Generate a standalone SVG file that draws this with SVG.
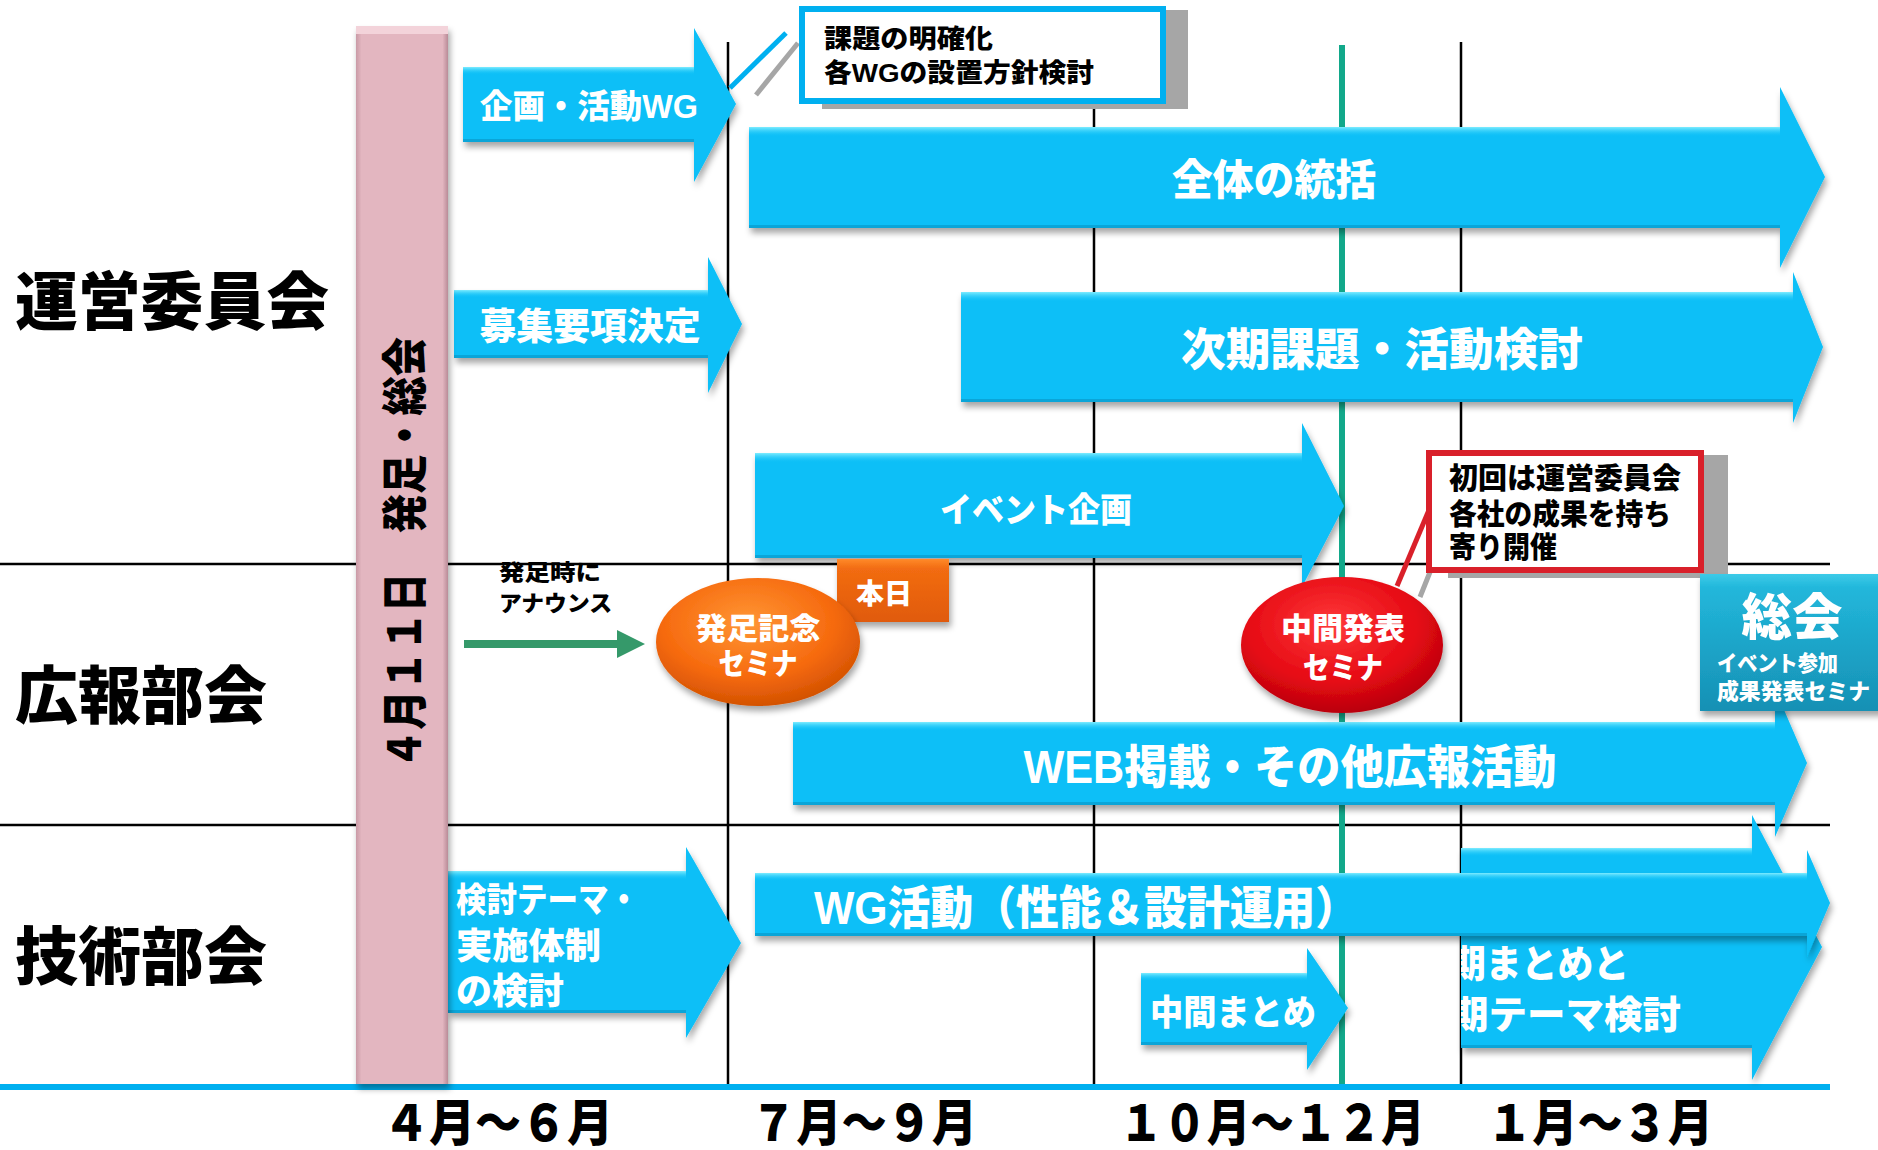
<svg xmlns="http://www.w3.org/2000/svg" width="1878" height="1150" viewBox="0 0 1878 1150">
<defs>
<style>
.t{font-family:"Liberation Sans","Noto Sans CJK JP",sans-serif;font-weight:900;dominant-baseline:central}
.w{fill:#fff}
.k{fill:#000}
.m{text-anchor:middle}
.ar{fill:#08bff7}
.hl{fill:url(#hlg)}
.dk{fill:#0a8fc0;opacity:.55}
.grid{stroke:#000;stroke-width:2.5;fill:none}
</style>
<linearGradient id="hlg" x1="0" y1="0" x2="0" y2="1">
<stop offset="0" stop-color="#7eecff"/>
<stop offset="1" stop-color="#08bff7" stop-opacity="0"/>
</linearGradient>
<linearGradient id="pink" x1="0" y1="0" x2="1" y2="0">
<stop offset="0" stop-color="#c99aa6"/>
<stop offset="0.06" stop-color="#e3b6c0"/>
<stop offset="0.94" stop-color="#e3b6c0"/>
<stop offset="1" stop-color="#b98b97"/>
</linearGradient>
<radialGradient id="org" cx="0.45" cy="0.35" r="0.7">
<stop offset="0" stop-color="#ff9635"/>
<stop offset="0.6" stop-color="#f66a0e"/>
<stop offset="1" stop-color="#cc4d00"/>
</radialGradient>
<radialGradient id="red" cx="0.45" cy="0.35" r="0.7">
<stop offset="0" stop-color="#ff3a3a"/>
<stop offset="0.6" stop-color="#e60a14"/>
<stop offset="1" stop-color="#b0000a"/>
</radialGradient>
<linearGradient id="orgbox" x1="0" y1="0" x2="0" y2="1">
<stop offset="0" stop-color="#ff8a2a"/>
<stop offset="0.15" stop-color="#f26c12"/>
<stop offset="1" stop-color="#e05a08"/>
</linearGradient>
<linearGradient id="teal" x1="0" y1="0" x2="0" y2="1">
<stop offset="0" stop-color="#3ccbe8"/>
<stop offset="0.1" stop-color="#22b7db"/>
<stop offset="1" stop-color="#1690b4"/>
</linearGradient>
<filter id="sh" x="-5%" y="-20%" width="115%" height="160%">
<feDropShadow dx="2" dy="5" stdDeviation="3" flood-color="#000" flood-opacity="0.35"/>
</filter>
<clipPath id="clipA9"><rect x="1461" y="840" width="400" height="240"/></clipPath>
</defs>
<rect width="1878" height="1150" fill="#fff"/>

<g id="grid">
<line class="grid" x1="0" y1="564" x2="1830" y2="564"/>
<line class="grid" x1="0" y1="825" x2="1830" y2="825"/>
<line class="grid" x1="728" y1="42" x2="728" y2="1087"/>
<line class="grid" x1="1094" y1="42" x2="1094" y2="1087"/>
<line class="grid" x1="1461" y1="42" x2="1461" y2="1087"/>
<line x1="1342" y1="45" x2="1342" y2="1087" stroke="#12a88a" stroke-width="6"/>
<line x1="0" y1="1087" x2="1830" y2="1087" stroke="#00b0f0" stroke-width="6"/>
</g>

<g id="labels">
<text class="t k" x="15" y="302" font-size="63" textLength="314" lengthAdjust="spacingAndGlyphs">運営委員会</text>
<text class="t k" x="15" y="696" font-size="63" textLength="252" lengthAdjust="spacingAndGlyphs">広報部会</text>
<text class="t k" x="15" y="957" font-size="63" textLength="252" lengthAdjust="spacingAndGlyphs">技術部会</text>
<text class="t k m" x="498" y="1124" font-size="50" textLength="230" lengthAdjust="spacingAndGlyphs">４月～６月</text>
<text class="t k m" x="864" y="1124" font-size="50" textLength="226" lengthAdjust="spacingAndGlyphs">７月～９月</text>
<text class="t k m" x="1272" y="1124" font-size="50" textLength="305" lengthAdjust="spacingAndGlyphs">１０月～１２月</text>
<text class="t k m" x="1600" y="1124" font-size="50" textLength="226" lengthAdjust="spacingAndGlyphs">１月～３月</text>
</g>

<g id="connectors">
<line x1="756" y1="95" x2="798" y2="43" stroke="#a6a6a6" stroke-width="5"/>
<line x1="730" y1="88" x2="786" y2="33" stroke="#00b0f0" stroke-width="5"/>
<line x1="1420" y1="597" x2="1450" y2="522" stroke="#a6a6a6" stroke-width="5"/>
<line x1="1397" y1="586" x2="1429" y2="510" stroke="#d9202a" stroke-width="5"/>
<g id="announce-arrow">
<polygon points="464,640 617,640 617,630 645,644 617,658 617,648 464,648" fill="#35996a"/>
</g>
</g>

<g id="n-kikaku">
<polygon class="ar" filter="url(#sh)" points="463,67 694,67 694,28 736,104 694,182 694,142 463,142"/>
<rect class="hl" x="463" y="67" width="231" height="8"/>
<rect class="dk" x="463" y="139" width="231" height="3"/>
<text class="t w m" x="589" y="106" font-size="33" textLength="218" lengthAdjust="spacingAndGlyphs">企画・活動WG</text>
</g>

<g id="n-boshu">
<polygon class="ar" filter="url(#sh)" points="454,290 708,290 708,257 742,324 708,393 708,358 454,358"/>
<rect class="hl" x="454" y="290" width="254" height="8"/>
<rect class="dk" x="454" y="355" width="254" height="3"/>
<text class="t w m" x="590" y="327" font-size="37" textLength="221" lengthAdjust="spacingAndGlyphs">募集要項決定</text>
</g>

<g id="n-zentai">
<polygon class="ar" filter="url(#sh)" points="749,127 1780,127 1780,87 1825,177 1780,268 1780,228 749,228"/>
<rect class="hl" x="749" y="127" width="1031" height="10"/>
<rect class="dk" x="749" y="225" width="1031" height="3"/>
<text class="t w m" x="1274" y="180" font-size="42" textLength="204" lengthAdjust="spacingAndGlyphs">全体の統括</text>
</g>

<g id="n-jiki">
<polygon class="ar" filter="url(#sh)" points="961,292 1793,292 1793,272 1823,347 1793,423 1793,402 961,402"/>
<rect class="hl" x="961" y="292" width="832" height="10"/>
<rect class="dk" x="961" y="399" width="832" height="3"/>
<text class="t w m" x="1382" y="350" font-size="45" textLength="402" lengthAdjust="spacingAndGlyphs">次期課題・活動検討</text>
</g>

<g id="n-event">
<polygon class="ar" filter="url(#sh)" points="755,453 1302,453 1302,423 1344,506 1302,587 1302,558 755,558"/>
<rect class="hl" x="755" y="453" width="547" height="10"/>
<rect class="dk" x="755" y="555" width="547" height="3"/>
<text class="t w m" x="1036" y="510" font-size="34" textLength="192" lengthAdjust="spacingAndGlyphs">イベント企画</text>
</g>

<g id="n-web">
<polygon class="ar" filter="url(#sh)" points="793,722 1775,722 1775,689 1807,763 1775,837 1775,805 793,805"/>
<rect class="hl" x="793" y="722" width="982" height="9"/>
<rect class="dk" x="793" y="802" width="982" height="3"/>
<text class="t w m" x="1290" y="767" font-size="46" textLength="533" lengthAdjust="spacingAndGlyphs">WEB掲載・その他広報活動</text>
</g>

<g id="n-kento">
<polygon class="ar" filter="url(#sh)" points="448,871 686,871 686,847 741,943 686,1038 686,1013 448,1013"/>
<rect class="hl" x="448" y="871" width="238" height="9"/>
<rect class="dk" x="448" y="1010" width="238" height="3"/>
<text class="t w" x="456" y="900" font-size="34" textLength="183" lengthAdjust="spacingAndGlyphs">検討テーマ・</text>
<text class="t w" x="456" y="946" font-size="36" textLength="145" lengthAdjust="spacingAndGlyphs">実施体制</text>
<text class="t w" x="456" y="991" font-size="36" textLength="108" lengthAdjust="spacingAndGlyphs">の検討</text>
</g>

<g id="n-matome">
<polygon class="ar" filter="url(#sh)" points="1461,848 1752,848 1752,815 1822,947 1752,1080 1752,1048 1461,1048"/>
<rect class="hl" x="1461" y="848" width="291" height="9"/>
<rect class="dk" x="1461" y="1045" width="291" height="3"/>
<g clip-path="url(#clipA9)">
<text class="t w" x="1450" y="964" font-size="38" textLength="179" lengthAdjust="spacingAndGlyphs">期まとめと</text>
<text class="t w" x="1450" y="1015" font-size="38" textLength="231" lengthAdjust="spacingAndGlyphs">期テーマ検討</text>
</g>
</g>

<g id="n-wg">
<polygon class="ar" filter="url(#sh)" points="755,873 1807,873 1807,850 1830,903 1807,957 1807,936 755,936"/>
<rect class="hl" x="755" y="873" width="1052" height="8"/>
<rect class="dk" x="755" y="933" width="1052" height="3"/>
<text class="t w m" x="1086" y="908" font-size="46" textLength="544" lengthAdjust="spacingAndGlyphs">WG活動（性能＆設計運用）</text>
</g>

<g id="n-chukan-matome">
<polygon class="ar" filter="url(#sh)" points="1141,973 1307,973 1307,948 1348,1008 1307,1070 1307,1045 1141,1045"/>
<rect class="hl" x="1141" y="973" width="166" height="8"/>
<rect class="dk" x="1141" y="1042" width="166" height="3"/>
<text class="t w m" x="1233" y="1012" font-size="35" textLength="166" lengthAdjust="spacingAndGlyphs">中間まとめ</text>
</g>

<g id="n-hossoku">
<rect x="356" y="26" width="92" height="1058" fill="url(#pink)" filter="url(#sh)"/>
<rect x="356" y="26" width="92" height="8" fill="#f3d3da"/>
<text class="t k m" transform="translate(405,553) rotate(-90)" x="0" y="0" font-size="46" textLength="432" lengthAdjust="spacingAndGlyphs">４月１１日　発足・総会</text>
</g>

<g id="n-announce-label">
<text class="t k" x="499" y="572" font-size="22" textLength="102" lengthAdjust="spacingAndGlyphs">発足時に</text>
<text class="t k" x="499" y="603" font-size="22" textLength="113" lengthAdjust="spacingAndGlyphs">アナウンス</text>
</g>

<g id="n-honjitsu">
<rect x="837" y="559" width="112" height="63" fill="url(#orgbox)" filter="url(#sh)"/>
<text class="t w m" x="884" y="594" font-size="28" textLength="56" lengthAdjust="spacingAndGlyphs">本日</text>
</g>

<g id="n-seminar1">
<ellipse cx="758" cy="642" rx="102" ry="64" fill="url(#org)" filter="url(#sh)"/>
<text class="t w m" x="758" y="628" font-size="30" textLength="125" lengthAdjust="spacingAndGlyphs">発足記念</text>
<text class="t w m" x="758" y="663" font-size="30" textLength="79" lengthAdjust="spacingAndGlyphs">セミナ</text>
</g>

<g id="n-seminar2">
<ellipse cx="1342" cy="645" rx="101" ry="68" fill="url(#red)" filter="url(#sh)"/>
<text class="t w m" x="1343" y="628" font-size="30" textLength="124" lengthAdjust="spacingAndGlyphs">中間発表</text>
<text class="t w m" x="1343" y="667" font-size="30" textLength="80" lengthAdjust="spacingAndGlyphs">セミナ</text>
</g>

<g id="n-callout-top">
<rect x="822" y="10" width="366" height="99" fill="#a6a6a6"/>
<rect x="802" y="9" width="361" height="92" fill="#fff" stroke="#00b0f0" stroke-width="6"/>
<text class="t k" x="824" y="39" font-size="26" textLength="169" lengthAdjust="spacingAndGlyphs">課題の明確化</text>
<text class="t k" x="824" y="73" font-size="26" textLength="270" lengthAdjust="spacingAndGlyphs">各WGの設置方針検討</text>
</g>

<g id="n-callout-red">
<rect x="1448" y="455" width="280" height="123" fill="#a6a6a6"/>
<rect x="1429" y="453" width="272" height="117" fill="#fff" stroke="#d9202a" stroke-width="6"/>
<text class="t k" x="1449" y="479" font-size="29" textLength="232" lengthAdjust="spacingAndGlyphs">初回は運営委員会</text>
<text class="t k" x="1449" y="515" font-size="29" textLength="222" lengthAdjust="spacingAndGlyphs">各社の成果を持ち</text>
<text class="t k" x="1449" y="548" font-size="29" textLength="108" lengthAdjust="spacingAndGlyphs">寄り開催</text>
</g>

<g id="n-sokai">
<rect x="1700" y="574" width="190" height="137" fill="url(#teal)" filter="url(#sh)"/>
<text class="t w m" x="1792" y="618" font-size="50" textLength="101" lengthAdjust="spacingAndGlyphs">総会</text>
<text class="t w" x="1717" y="663" font-size="22" textLength="121" lengthAdjust="spacingAndGlyphs">イベント参加</text>
<text class="t w" x="1717" y="691" font-size="22" textLength="153" lengthAdjust="spacingAndGlyphs">成果発表セミナ</text>
</g>
</svg>
